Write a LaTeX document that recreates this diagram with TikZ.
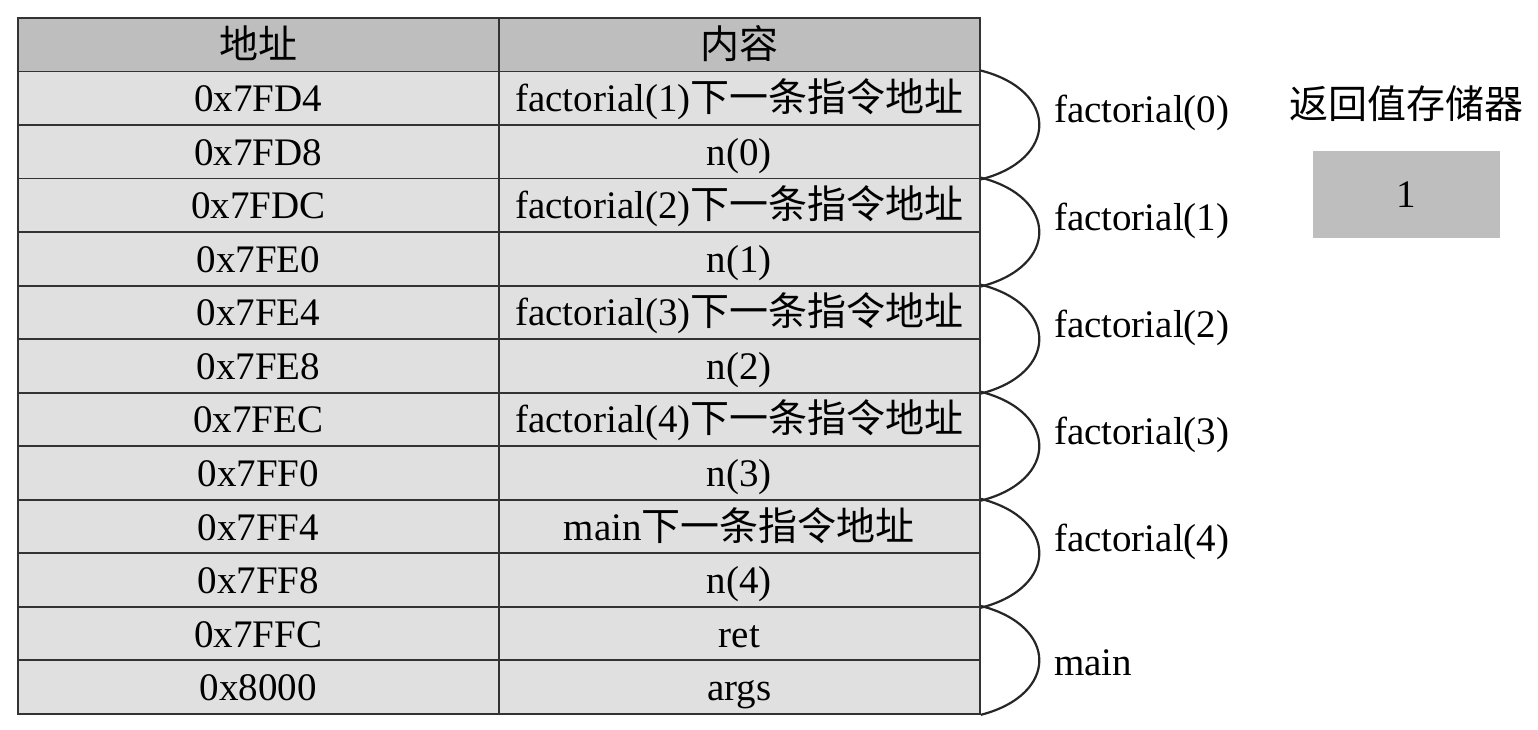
\documentclass[tikz,border=0pt]{standalone}
\usepackage{fontspec}
\usetikzlibrary{calc}
\setmainfont{Liberation Serif}
\newfontfamily\cjk{Noto Sans CJK SC}
\definecolor{hdrgray}{HTML}{BEBEBE}
\definecolor{cellgray}{HTML}{E0E0E0}
\definecolor{linegray}{HTML}{333333}
\begin{document}
\begin{tikzpicture}[x=1pt,y=-1pt,
  every node/.style={font=\fontsize{39}{42}\selectfont},
  cell/.style={draw=linegray, line width=1.8pt, rectangle, inner sep=0pt,
     minimum height=53.54pt, text height=29pt, text depth=2pt, anchor=north west},
  addr/.style={cell, fill=cellgray, minimum width=481pt},
  cont/.style={cell, fill=cellgray, minimum width=481pt},
  hdr/.style={cell, fill=hdrgray, minimum width=481pt},
  brace/.style={draw=black!85, line width=2.2pt},
  lbl/.style={anchor=base west, inner sep=0pt}]
\useasboundingbox (0,0) rectangle (1538,730);
% header
\node[hdr] (ha) at (17,17) {\cjk 地址};
\node[hdr] (hc) at (498,17) {\cjk 内容};
% rows
\foreach \i/\ad/\ct in {
  1/0x7FD4/{factorial(1){\cjk 下一条指令地址}},
  2/0x7FD8/{n(0)},
  3/0x7FDC/{factorial(2){\cjk 下一条指令地址}},
  4/0x7FE0/{n(1)},
  5/0x7FE4/{factorial(3){\cjk 下一条指令地址}},
  6/0x7FE8/{n(2)},
  7/0x7FEC/{factorial(4){\cjk 下一条指令地址}},
  8/0x7FF0/{n(3)},
  9/0x7FF4/{main{\cjk 下一条指令地址}},
  10/0x7FF8/{n(4)},
  11/0x7FFC/{ret},
  12/0x8000/{args}}{
  \node[addr] (a\i) at (17,{17+53.54*\i}) {\ad};
  \node[cont] (c\i) at (498,{17+53.54*\i}) {\ct};
}
% braces
\foreach \t/\b/\name/\lab in {1/2/f0/factorial(0), 3/4/f1/factorial(1), 5/6/f2/factorial(2), 7/8/f3/factorial(3), 9/10/f4/factorial(4)}{
  \path (c\t.north east) coordinate (s\name) (c\b.south east) coordinate (e\name);
  \draw[brace] (s\name) .. controls ([xshift=78pt,yshift=-20pt]s\name) and ([xshift=78pt,yshift=20pt]e\name) .. (e\name);
  \node[lbl] (l\name) at ([xshift=73pt,yshift=2pt]$(s\name)!0.5!(e\name)$) {\lab};
}
\path (c11.north east) coordinate (smain) (c12.south east) coordinate (emain);
\draw[brace] (smain) .. controls ([xshift=78pt,yshift=-20pt]smain) and ([xshift=78pt,yshift=20pt]emain) .. (emain);
\node[lbl] (lmain) at ([xshift=73pt,yshift=-15pt]$(smain)!0.5!(emain)$) {main};
% return value register
\node (rt) at (1406.5,104) {\cjk 返回值存储器};
\node[fill=hdrgray, minimum width=187pt, minimum height=87pt, inner sep=0pt] (rv) at (1406.5,194.5) {1};
\end{tikzpicture}
\end{document}
